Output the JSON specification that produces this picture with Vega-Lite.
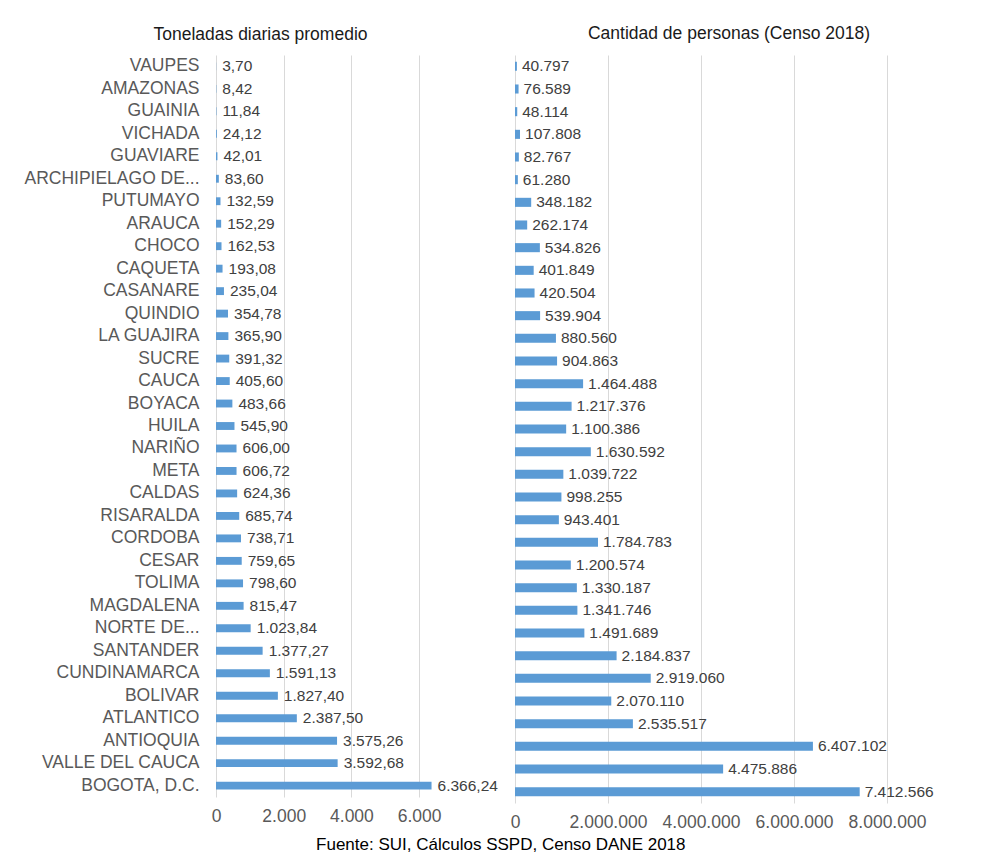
{
  "$schema": "https://vega.github.io/schema/vega-lite/v6.json",
  "background": "white",
  "padding": {"left": 23, "top": 24, "right": 5, "bottom": 5},
  "config": {
    "font": "Liberation Sans",
    "view": {"stroke": null},
    "locale": {"number": {"decimal": ",", "thousands": ".", "grouping": [3], "currency": ["$", ""]}},
    "title": {"fontWeight": "normal", "fontSize": 17.5, "color": "#1a1a1a", "font": "Liberation Sans"}
  },
  "title": {"text": "Fuente: SUI, Cálculos SSPD, Censo DANE 2018", "orient": "bottom", "anchor": "middle", "fontSize": 17, "color": "#000000", "offset": 6, "dx": 22},
  "data": {"values": [
    {"dep": "VAUPES", "ton": 3.70, "per": 40797},
    {"dep": "AMAZONAS", "ton": 8.42, "per": 76589},
    {"dep": "GUAINIA", "ton": 11.84, "per": 48114},
    {"dep": "VICHADA", "ton": 24.12, "per": 107808},
    {"dep": "GUAVIARE", "ton": 42.01, "per": 82767},
    {"dep": "ARCHIPIELAGO DE SAN ANDRES", "ton": 83.60, "per": 61280},
    {"dep": "PUTUMAYO", "ton": 132.59, "per": 348182},
    {"dep": "ARAUCA", "ton": 152.29, "per": 262174},
    {"dep": "CHOCO", "ton": 162.53, "per": 534826},
    {"dep": "CAQUETA", "ton": 193.08, "per": 401849},
    {"dep": "CASANARE", "ton": 235.04, "per": 420504},
    {"dep": "QUINDIO", "ton": 354.78, "per": 539904},
    {"dep": "LA GUAJIRA", "ton": 365.90, "per": 880560},
    {"dep": "SUCRE", "ton": 391.32, "per": 904863},
    {"dep": "CAUCA", "ton": 405.60, "per": 1464488},
    {"dep": "BOYACA", "ton": 483.66, "per": 1217376},
    {"dep": "HUILA", "ton": 545.90, "per": 1100386},
    {"dep": "NARIÑO", "ton": 606.00, "per": 1630592},
    {"dep": "META", "ton": 606.72, "per": 1039722},
    {"dep": "CALDAS", "ton": 624.36, "per": 998255},
    {"dep": "RISARALDA", "ton": 685.74, "per": 943401},
    {"dep": "CORDOBA", "ton": 738.71, "per": 1784783},
    {"dep": "CESAR", "ton": 759.65, "per": 1200574},
    {"dep": "TOLIMA", "ton": 798.60, "per": 1330187},
    {"dep": "MAGDALENA", "ton": 815.47, "per": 1341746},
    {"dep": "NORTE DE SANTANDER", "ton": 1023.84, "per": 1491689},
    {"dep": "SANTANDER", "ton": 1377.27, "per": 2184837},
    {"dep": "CUNDINAMARCA", "ton": 1591.13, "per": 2919060},
    {"dep": "BOLIVAR", "ton": 1827.40, "per": 2070110},
    {"dep": "ATLANTICO", "ton": 2387.50, "per": 2535517},
    {"dep": "ANTIOQUIA", "ton": 3575.26, "per": 6407102},
    {"dep": "VALLE DEL CAUCA", "ton": 3592.68, "per": 4475886},
    {"dep": "BOGOTA, D.C.", "ton": 6366.24, "per": 7412566}
  ]},
  "spacing": 12,
  "hconcat": [
    {
      "width": 237,
      "height": 742,
      "title": {"text": "Toneladas diarias promedio", "anchor": "middle", "dx": -74, "offset": 12},
      "encoding": {
        "y": {"field": "dep", "type": "nominal", "sort": null,
              "scale": {"paddingInner": 0.65, "paddingOuter": 0.33},
              "axis": {"title": null, "ticks": false, "domain": false, "labelFontSize": 17.5, "labelColor": "#595959", "labelPadding": 17, "labelLimit": 200,
                       "labelExpr": "length(datum.label) > 16 ? slice(datum.label, 0, lastindexof(slice(datum.label, 0, 16), ' ')) + '...' : datum.label"}},
        "x": {"field": "ton", "type": "quantitative",
              "scale": {"domain": [0, 7000], "nice": false},
              "axis": {"title": null, "values": [0, 2000, 4000, 6000], "format": ",d", "grid": true, "gridColor": "#d9d9d9", "domain": false, "ticks": false, "labelFontSize": 17.5, "labelColor": "#595959", "labelPadding": 10, "labelOverlap": false, "labelFlush": false}}
      },
      "layer": [
        {"mark": {"type": "bar", "color": "#5B9BD5"}},
        {"mark": {"type": "text", "align": "left", "baseline": "middle", "dx": 6, "fontSize": 15.5, "color": "#404040"},
         "encoding": {"text": {"field": "ton", "type": "quantitative", "format": ",.2f"}}}
      ]
    },
    {
      "width": 372,
      "height": 748,
      "title": {"text": "Cantidad de personas (Censo 2018)", "anchor": "middle", "dx": 28, "offset": 13},
      "encoding": {
        "y": {"field": "dep", "type": "nominal", "sort": null,
              "scale": {"paddingInner": 0.6, "paddingOuter": 0.3},
              "axis": null},
        "x": {"field": "per", "type": "quantitative",
              "scale": {"domain": [0, 8000000], "nice": false},
              "axis": {"title": null, "values": [0, 2000000, 4000000, 6000000, 8000000], "format": ",d", "grid": true, "gridColor": "#d9d9d9", "domain": false, "ticks": false, "labelFontSize": 17.5, "labelColor": "#595959", "labelPadding": 10, "labelOverlap": false, "labelFlush": false}}
      },
      "layer": [
        {"mark": {"type": "bar", "color": "#5B9BD5"}},
        {"mark": {"type": "text", "align": "left", "baseline": "middle", "dx": 5, "fontSize": 15.5, "color": "#404040"},
         "encoding": {"text": {"field": "per", "type": "quantitative", "format": ",d"}}}
      ]
    }
  ]
}
